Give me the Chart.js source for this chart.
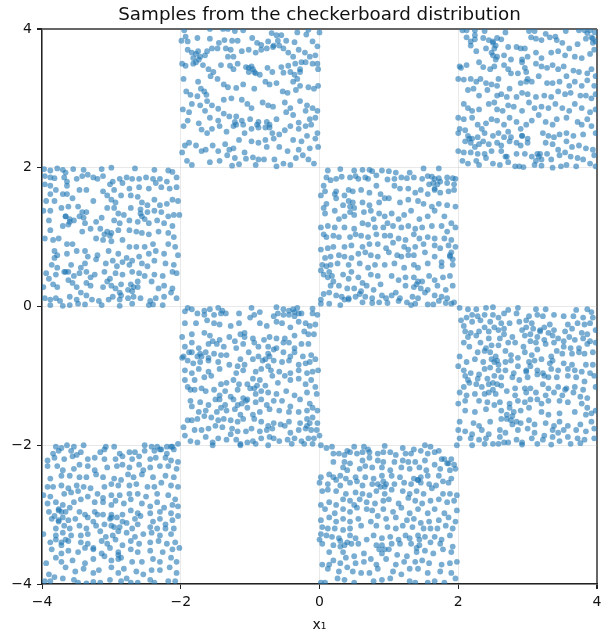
<!DOCTYPE html>
<html>
<head>
<meta charset="utf-8">
<script src="https://cdn.jsdelivr.net/npm/chart.js@4"></script>
<style>
html,body{margin:0;padding:0;background:#fff}
#wrap{width:616px;height:640px}
</style>
</head>
<body>
<div id="wrap"><canvas id="myChart" width="616" height="640"></canvas></div>
<script>
// values, one list per filled square
const squareTopMid=[[-1.95,3.98],[-1.58,4],[-1.39,4],[-1.32,4],[-1.22,3.97],[-1.1,3.98],[-.69,3.94],[-.62,3.91],[-.55,3.91],[-.32,3.95],[-.16,3.99],[0,3.95],[-1.93,3.89],[-1.99,3.83],[-1.76,3.87],[-1.58,3.86],[-1.45,3.8],[-1.37,3.84],[-1.26,3.83],[-1.18,3.83],[-.97,3.87],[-.9,3.8],[-.84,3.77],[-.74,3.82],[-.6,3.83],[-.48,3.83],[-.36,3.81],[-.19,3.92],[-.1,3.82],[-.03,3.75],[-1.9,3.82],
[-1.9,3.7],[-1.84,3.66],[-1.75,3.68],[-1.72,3.6],[-1.82,3.58],[-1.65,3.62],[-1.55,3.72],[-1.62,3.68],[-1.47,3.72],[-1.35,3.72],[-1.28,3.7],[-1.32,3.6],[-1.24,3.6],[-1.12,3.68],[-1.02,3.7],[-.92,3.66],[-.84,3.7],[-.76,3.72],[-.67,3.74],[-.58,3.76],[-.52,3.72],[-.45,3.66],[-.38,3.6],[-.3,3.7],[-.21,3.66],[-.14,3.6],[-.06,3.62],[-.03,3.5],[-.02,3.42],[-.1,3.5],[-.2,3.52],[-.26,3.52],[-.35,3.5],[-.45,3.47],
[-1.98,3.5],[-1.93,3.47],[-1.82,3.5],[-1.68,3.48],[-1.6,3.42],[-1.53,3.38],[-1.57,3.32],[-1.42,3.48],[-1.29,3.47],[-1.24,3.42],[-1.18,3.5],[-1.06,3.45],[-1.02,3.38],[-.96,3.42],[-.92,3.36],[-.86,3.34],[-.75,3.44],[-.68,3.38],[-.55,3.45],[-.52,3.37],[-.42,3.38],[-.36,3.34],[-.32,3.28],[-.38,3.24],[-.28,3.42],
[-1.96,3.28],[-1.75,3.24],[-1.71,3.14],[-1.66,3.1],[-1.63,3.05],[-1.47,3.28],[-1.38,3.2],[-1.32,3.16],[-1.2,3.15],[-1.1,3.2],[-.94,3.14],[-.78,3.24],[-.72,3.2],[-.62,3.22],[-.53,3.1],[-.46,3.08],[-.34,3.12],[-.28,3.18],[-.16,3.16],[-.08,3.14],[-.02,3.18],[-1.92,3.1],[-1.86,3.05],[-1.76,3.03],
[-1.62,2.96],[-1.55,2.9],[-1.46,2.85],[-1.38,2.98],[-1.27,3],[-1.12,2.98],[-1.04,2.92],[-.98,2.86],[-.82,2.94],[-.74,2.9],[-.67,2.88],[-.5,2.94],[-.42,2.86],[-.28,2.96],[-.18,2.9],[-.1,2.86],[-.03,2.82],[-1.97,2.84],[-1.88,2.8],[-1.84,2.92],[-1.72,2.9],[-1.65,2.82],[-1.58,2.72],[-1.46,2.68],[-1.38,2.78],[-1.3,2.74],[-1.2,2.74],[-1.12,2.68],[-1,2.7],[-.88,2.66],[-.76,2.66],[-.62,2.7],[-.48,2.8],[-.38,2.76],[-.3,2.65],[-.2,2.82],[-.14,2.7],[-.06,2.72],
[-1.96,2.6],[-1.9,2.68],[-1.74,2.64],[-1.7,2.55],[-1.62,2.5],[-1.55,2.56],[-1.44,2.6],[-1.34,2.52],[-1.24,2.6],[-1.1,2.62],[-1.08,2.5],[-.98,2.56],[-.88,2.58],[-.78,2.58],[-.68,2.5],[-.58,2.48],[-.5,2.54],[-.42,2.6],[-.3,2.56],[-.2,2.6],[-.12,2.62],[-.03,2.5],[-1.88,2.36],[-1.94,2.32],[-1.78,2.32],[-1.7,2.24],[-1.64,2.26],[-1.54,2.32],[-1.46,2.24],[-1.36,2.34],[-1.3,2.26],[-1.24,2.28],[-1.16,2.4],
[-1.08,2.22],[-.98,2.38],[-.88,2.36],[-.78,2.4],[-.76,2.3],[-.66,2.42],[-.58,2.3],[-.46,2.24],[-.38,2.4],[-.26,2.38],[-.18,2.46],[-.06,2.42],[-.02,2.3],[-.14,2.28],[-.3,2.26],[-1.98,2.22],[-1.91,2.1],[-1.84,2.04],[-1.58,2.08],[-1.44,2.1],[-1.33,2.18],[-1.22,2.14],[-1.16,2.05],[-1.06,2.13],[-.96,2.15],[-.88,2.12],[-.8,2.12],[-.65,2.12],[-.52,2.06],[-.42,2.04],[-.34,2.14],[-.24,2.18],[-.16,2.12],[-.08,2.06],[-.92,2.04],[-1.26,2.03],[-.62,2.02]];

const squareTopRight=[[2.06,3.98],[2.12,3.98],[2.24,3.98],[2.24,3.91],[2.38,3.97],[2.68,3.95],[3.02,3.97],[3.1,3.97],[3.26,3.93],[3.4,3.89],[3.55,3.97],[3.74,3.98],[3.82,3.98],[3.9,3.98],[3.97,3.95],[2.12,3.88],[2.18,3.82],[2.24,3.85],[2.18,3.76],[2.36,3.87],[2.44,3.84],[2.5,3.82],[2.56,3.87],[2.62,3.85],[2.72,3.74],[2.96,3.72],[3.05,3.88],[3.12,3.86],[3.2,3.84],[3.32,3.88],[3.42,3.84],[3.5,3.8],[3.6,3.72],[3.72,3.78],[3.84,3.86],[3.92,3.88],[3.98,3.82],[2.04,3.44],[2.26,3.68],[2.4,3.72],[2.48,3.66],[2.52,3.72],[2.56,3.6],[2.66,3.62],[2.84,3.74],[2.9,3.72],[2.76,3.56],[2.92,3.56],[3,3.6],[3.12,3.66],[3.2,3.58],[3.34,3.66],[3.44,3.68],[3.54,3.62],[3.68,3.6],[3.78,3.58],[3.9,3.64],[3.96,3.7],
[2.02,3.46],[2.12,3.48],[2.3,3.52],[2.36,3.45],[2.46,3.42],[2.52,3.46],[2.66,3.48],[2.72,3.42],[2.76,3.36],[2.92,3.52],[2.96,3.44],[2.98,3.38],[3.12,3.5],[3.2,3.46],[3.28,3.44],[3.36,3.48],[3.44,3.42],[3.52,3.46],[3.66,3.4],[3.74,3.38],[3.86,3.36],[3.92,3.42],[3.98,3.32],[2,3.28],[2.08,3.27],[2.18,3.28],[2.26,3.24],[2.32,3.28],[2.4,3.22],[2.48,3.2],[2.56,3.18],[2.58,3.28],[2.86,3.36],[2.9,3.22],[2.98,3.24],[3.06,3.24],[3.16,3.32],[3.28,3.22],[3.36,3.22],[3.46,3.24],[3.56,3.32],[3.6,3.18],[3.68,3.24],[3.78,3.18],[3.86,3.26],[3.96,3.18],
[2.14,3.12],[2.22,3.14],[2.3,3.04],[2.42,3.12],[2.56,3.04],[2.62,3.06],[2.7,3.02],[2.74,3.14],[2.84,3.02],[2.92,3.08],[3,3.06],[3.12,3.02],[3.24,3.04],[3.34,3.02],[3.44,3.1],[3.54,3.06],[3.62,3.08],[3.76,3.04],[3.84,3.04],[3.92,3],[3.98,3.06],[2.08,2.92],[2.14,2.86],[2.2,2.82],[2.3,2.84],[2.44,2.92],[2.52,2.94],[2.56,2.84],[2.64,2.82],[2.72,2.9],[2.8,2.88],[2.92,2.82],[3.02,2.94],[3.1,2.86],[3.2,2.88],[3.3,2.86],[3.4,2.92],[3.5,2.86],[3.6,2.82],[3.68,2.92],[3.78,2.86],[3.9,2.8],[3.98,2.84],
[2,2.72],[2.08,2.7],[2.2,2.72],[2.28,2.62],[2.34,2.56],[2.4,2.64],[2.48,2.7],[2.56,2.68],[2.66,2.62],[2.74,2.72],[2.84,2.66],[2.98,2.62],[3.06,2.68],[3.16,2.76],[3.26,2.66],[3.36,2.62],[3.42,2.7],[3.56,2.72],[3.72,2.66],[3.78,2.62],[3.86,2.7],[3.92,2.6],[2.02,2.56],[2,2.5],[2.1,2.54],[2.14,2.46],[2.2,2.42],[2.28,2.44],[2.38,2.5],[2.5,2.46],[2.58,2.5],[2.66,2.44],[2.72,2.52],[2.76,2.44],[2.92,2.46],[3,2.42],[3.22,2.5],[3.3,2.46],[3.38,2.44],[3.46,2.48],[3.56,2.5],[3.66,2.46],[3.8,2.48],[3.98,2.5],
[2.1,2.38],[2.18,2.36],[2.24,2.3],[2.3,2.34],[2.36,2.38],[2.44,2.34],[2.56,2.36],[2.62,2.32],[2.74,2.38],[2.84,2.36],[2.9,2.32],[3.26,2.36],[3.36,2.34],[3.44,2.26],[3.56,2.38],[3.64,2.3],[3.74,2.32],[3.84,2.28],[3.94,2.26],[2,2.24],[2.08,2.22],[2.18,2.22],[2.28,2.2],[2.38,2.2],[2.48,2.24],[2.62,2.24],[2.68,2.16],[2.84,2.2],[2.96,2.2],[3.06,2.16],[3.14,2.2],[3.2,2.12],[3.28,2.2],[3.34,2.12],[3.46,2.18],[3.54,2.22],[3.62,2.16],[3.72,2.14],[3.8,2.12],[3.96,2.18],
[2.06,2.1],[2.14,2.06],[2.26,2.1],[2.3,2.04],[2.4,2.14],[2.5,2.06],[2.6,2.04],[2.72,2.08],[2.82,2.02],[2.88,2.02],[2.94,2.01],[3.1,2.04],[3.12,2.1],[3.2,2.03],[3.36,2],[3.48,2.02],[3.56,2.04],[3.7,2.02],[3.9,2.06],[3.98,2.02]];

const squareMidLeft=[[-3.97,1.98],[-3.88,1.96],[-3.78,1.99],[-3.7,1.97],[-3.66,1.93],[-3.55,1.98],[-3.4,1.97],[-3.14,1.98],[-3,2],[-2.66,1.99],[-2.38,1.97],[-2.18,1.96],[-2.12,1.94],[-3.96,1.88],[-3.88,1.86],[-3.82,1.85],[-3.68,1.86],[-3.64,1.8],[-3.5,1.84],[-3.42,1.88],[-3.34,1.9],[-3.26,1.86],[-3.2,1.84],[-3.12,1.88],[-2.98,1.8],[-2.88,1.84],[-2.78,1.86],[-2.7,1.84],[-2.6,1.84],[-2.5,1.86],[-2.4,1.84],[-2.3,1.84],[-2.2,1.8],[-2.06,1.86],
[-3.96,1.76],[-3.88,1.74],[-3.8,1.68],[-3.64,1.74],[-3.46,1.68],[-3.36,1.68],[-3.12,1.66],[-3.02,1.76],[-2.96,1.68],[-2.84,1.78],[-2.74,1.7],[-2.6,1.72],[-2.46,1.7],[-2.36,1.78],[-2.28,1.72],[-2.16,1.7],[-2.06,1.72],[-3.88,1.62],[-3.94,1.52],[-3.82,1.52],[-3.7,1.62],[-3.64,1.62],[-3.56,1.56],[-3.26,1.52],[-3.06,1.6],[-3,1.54],[-2.94,1.5],[-2.86,1.6],[-2.72,1.6],[-2.62,1.58],[-2.56,1.5],[-2.48,1.46],[-2.38,1.54],[-2.3,1.46],[-2.2,1.48],[-2.12,1.54],[-2.04,1.52],
[-3.98,1.38],[-3.88,1.38],[-3.72,1.42],[-3.62,1.44],[-3.48,1.44],[-3.42,1.36],[-3.36,1.36],[-3.06,1.42],[-2.96,1.42],[-2.9,1.34],[-2.82,1.32],[-2.72,1.42],[-2.58,1.4],[-2.48,1.36],[-2.38,1.38],[-2.28,1.36],[-2.18,1.3],[-2.02,1.32],[-3.9,1.24],[-3.66,1.3],[-3.6,1.26],[-3.54,1.24],[-3.46,1.3],[-3.4,1.28],[-3.38,1.2],[-3.22,1.22],[-3.14,1.28],[-2.96,1.24],[-2.88,1.2],[-2.74,1.24],[-2.62,1.22],[-2.52,1.26],[-2.46,1.2],[-2.34,1.24],[-2.24,1.2],[-2.12,1.16],
[-3.88,1.1],[-3.7,1.16],[-3.42,1.08],[-3.3,1.12],[-3.16,1.12],[-3.1,1.04],[-3,1.06],[-2.9,1.1],[-2.74,1.1],[-2.64,1.08],[-2.56,1.06],[-2.46,1.04],[-2.32,1.08],[-2.18,1.06],[-2.1,1],[-3.96,.98],[-3.84,.96],[-3.76,.98],[-3.64,.9],[-3.56,.9],[-3.22,.98],[-3.12,.96],[-3,.94],[-2.84,.96],[-2.74,.86],[-2.64,.86],[-2.52,.86],[-2.4,.9],[-2.18,.9],[-2.08,.86],[-3.82,.8],[-3.78,.74],[-3.64,.76],[-3.5,.8],[-3.38,.8],[-3.34,.72],[-3.2,.74],[-3.04,.8],[-2.9,.76],[-2.78,.7],[-2.6,.72],[-2.56,.62],[-2.46,.76],[-2.36,.8],[-2.24,.76],[-2.04,.74],
[-3.82,.7],[-3.86,.6],[-3.78,.56],[-3.58,.6],[-3.44,.56],[-3.38,.62],[-3.22,.68],[-3.08,.62],[-2.98,.66],[-2.92,.58],[-2.84,.64],[-2.74,.6],[-2.7,.66],[-2.48,.58],[-2.38,.66],[-2.22,.62],[-2.1,.6],[-3.94,.48],[-3.9,.4],[-3.8,.46],[-3.66,.5],[-3.54,.44],[-3.46,.48],[-3.36,.5],[-3.3,.42],[-3.24,.46],[-3.1,.5],[-3.02,.4],[-2.94,.48],[-2.84,.46],[-2.7,.5],[-2.6,.48],[-2.52,.44],[-2.38,.46],[-2.26,.44],[-2.12,.5],[-2.06,.48],
[-3.98,.28],[-3.84,.32],[-3.78,.28],[-3.62,.38],[-3.56,.34],[-3.5,.28],[-3.36,.34],[-3.3,.3],[-3.12,.28],[-3.06,.36],[-3,.3],[-2.94,.26],[-2.86,.32],[-2.76,.24],[-2.7,.22],[-2.62,.28],[-2.42,.36],[-2.32,.26],[-2.24,.3],[-2.12,.26],[-3.96,.12],[-3.88,.1],[-3.8,.12],[-3.74,.08],[-3.6,.14],[-3.5,.1],[-3.44,.2],[-3.36,.16],[-3.28,.1],[-3.18,.08],[-3.04,.1],[-2.88,.1],[-2.76,.12],[-2.68,.14],[-2.58,.12],[-2.44,.08],[-2.36,.12],[-2.24,.14],[-2.14,.2],[-2.06,.12],
[-3.88,.02],[-3.7,.01],[-3.6,.02],[-3.48,.04],[-3.38,.03],[-3.14,.02],[-2.88,.01],[-2.7,.04],[-2.46,.02],[-2.4,.03],[-2.26,.02]];

const squareMidMid=[[.12,1.96],[.3,1.98],[.5,1.96],[.52,1.88],[.62,1.97],[.72,1.97],[.76,1.95],[.9,1.96],[1,1.95],[1.1,1.93],[1.5,1.99],[1.72,1.99],[1.3,1.93],[.06,1.74],[.1,1.86],[.16,1.82],[.24,1.84],[.32,1.87],[.44,1.86],[.56,1.84],[.66,1.86],[.7,1.84],[.82,1.89],[.98,1.83],[1.08,1.84],[1.18,1.86],[1.26,1.85],[1.36,1.86],[1.48,1.84],[1.56,1.88],[1.62,1.87],[1.72,1.85],[1.84,1.86],[1.92,1.85],[1.96,1.84],[1.58,1.76],[1.64,1.78],[1.74,1.8],[1.84,1.78],[1.94,1.76],
[.02,1.6],[.08,1.66],[.24,1.66],[.36,1.6],[.42,1.68],[.48,1.66],[.6,1.68],[.72,1.64],[.82,1.74],[.88,1.62],[1.08,1.74],[1.16,1.7],[1.28,1.7],[1.38,1.64],[1.46,1.68],[1.56,1.62],[1.66,1.7],[1.74,1.64],[1.86,1.66],[1.94,1.68],[.1,1.48],[.06,1.42],[.34,1.46],[.42,1.52],[.48,1.5],[.62,1.5],[.72,1.46],[.86,1.5],[.94,1.56],[1,1.56],[1.16,1.5],[1.28,1.54],[1.42,1.52],[1.5,1.48],[1.62,1.44],[1.72,1.48],[1.84,1.46],[1.96,1.44],
[.08,1.34],[.22,1.38],[.28,1.26],[.36,1.3],[.44,1.36],[.5,1.32],[.64,1.36],[.74,1.38],[.86,1.34],[.94,1.3],[1.04,1.34],[1.14,1.26],[1.22,1.32],[1.32,1.38],[1.44,1.26],[1.56,1.3],[1.66,1.38],[1.8,1.3],[1.9,1.2],[.02,1.14],[.06,1.04],[.12,1.16],[.22,1.14],[.36,1.14],[.5,1.12],[.62,1.2],[.7,1.18],[.78,1.26],[.8,1.14],[.92,1.14],[1.06,1.16],[1.18,1.14],[1.28,1.16],[1.38,1.12],[1.48,1.14],[1.62,1.16],[1.76,1.16],[1.84,1.08],[1.96,1.14],
[.1,1],[.2,1.02],[.28,1],[.44,1],[.52,1.04],[.6,1.02],[.7,1],[.82,1.04],[.94,1.02],[1.02,1.02],[1.14,.98],[1.24,.96],[1.36,1.04],[1.44,.98],[1.56,1],[1.66,.98],[1.8,.98],[1.9,.96],[.02,.82],[.12,.84],[.2,.86],[.36,.86],[.46,.88],[.62,.86],[.72,.9],[.84,.9],[.96,.84],[1.06,.92],[1.22,.86],[1.28,.82],[1.38,.86],[1.5,.9],[1.66,.88],[1.74,.84],[1.86,.88],[1.96,.86],
[.08,.7],[.16,.72],[.28,.74],[.36,.72],[.46,.7],[.56,.76],[.66,.78],[.74,.74],[.84,.72],[1,.78],[1.12,.74],[1.18,.72],[1.28,.74],[1.36,.74],[1.52,.78],[1.66,.72],[1.76,.64],[1.92,.68],[1.88,.74],[.04,.6],[.1,.58],[.16,.6],[.26,.62],[.42,.6],[.58,.62],[.7,.56],[.8,.6],[.94,.6],[1.08,.62],[1.22,.56],[1.36,.6],[1.42,.56],[1.56,.62],[1.76,.58],[1.92,.6],
[.02,.52],[.06,.46],[.12,.42],[.2,.36],[.34,.46],[.42,.4],[.46,.5],[.56,.42],[.62,.34],[.74,.46],[.84,.44],[1.04,.44],[1.14,.38],[1.24,.42],[1.36,.42],[1.48,.36],[1.58,.44],[1.66,.38],[1.78,.42],[1.88,.44],[.16,.3],[.28,.3],[.4,.26],[.5,.26],[.6,.22],[.68,.3],[.78,.24],[.88,.32],[1.1,.2],[1.24,.3],[1.36,.28],[1.46,.26],[1.56,.24],[1.7,.3],[1.82,.24],[1.92,.3],
[.06,.18],[.14,.2],[.24,.16],[.32,.14],[.42,.12],[.52,.14],[.58,.18],[.66,.14],[.76,.12],[.9,.16],[.96,.12],[1.04,.16],[1.16,.12],[1.34,.14],[1.42,.12],[1.52,.2],[1.66,.16],[1.76,.14],[1.84,.12],[1.94,.06],[.02,.1],[.02,.04],[.14,.04],[.3,.02],[.62,.06],[.76,.05],[.86,.06],[.98,.05],[1.14,.08],[1.26,.06],[1.32,.02],[1.38,.04],[1.56,.03],[1.64,.03],[1.72,.08],[1.82,.05],[1.9,.04]];

const squareCenter=[[-1.9,-.02],[-1.84,-.04],[-1.66,-.06],[-1.58,-.04],[-1.46,-.02],[-1.4,-.06],[-.98,-.02],[-.62,-.01],[-.52,-.04],[-.44,-.06],[-.38,-.04],[-.32,-.02],[-.1,-.03],[-1.94,-.07],[-1.76,-.1],[-1.66,-.12],[-1.52,-.12],[-1.42,-.1],[-1.35,-.1],[-1.16,-.1],[-1,-.16],[-.94,-.12],[-.86,-.08],[-.66,-.14],[-.6,-.1],[-.52,-.12],[-.44,-.12],[-.36,-.14],[-.26,-.1],[-.1,-.1],[-.03,-.12],[-1.94,-.24],
[-1.78,-.24],[-1.62,-.2],[-1.52,-.24],[-1.44,-.26],[-1.28,-.28],[-1.16,-.24],[-.86,-.24],[-.76,-.28],[-.62,-.22],[-.54,-.24],[-.42,-.3],[-.3,-.22],[-.2,-.24],[-.14,-.28],[-.06,-.26],[-1.98,-.44],[-1.84,-.4],[-1.66,-.38],[-1.58,-.42],[-1.44,-.48],[-1.3,-.44],[-1.14,-.4],[-1.08,-.38],[-.96,-.46],[-.8,-.48],[-.72,-.44],[-.62,-.46],[-.5,-.46],[-.36,-.42],[-.22,-.36],[-.16,-.4],[-.08,-.4],
[-1.94,-.58],[-1.84,-.52],[-1.74,-.6],[-1.6,-.54],[-1.54,-.5],[-1.48,-.54],[-1.38,-.58],[-1.22,-.5],[-1.1,-.54],[-1.08,-.44],[-.94,-.52],[-.88,-.58],[-.74,-.58],[-.62,-.6],[-.52,-.52],[-.44,-.52],[-.36,-.6],[-.26,-.54],[-.16,-.54],[-1.96,-.72],[-1.88,-.66],[-1.76,-.72],[-1.64,-.66],[-1.6,-.74],[-1.52,-.68],[-1.42,-.7],[-1.34,-.7],[-1.2,-.6],[-1.14,-.76],[-1.02,-.66],[-.88,-.72],[-.74,-.68],[-.66,-.62],[-.52,-.66],[-.42,-.72],[-.36,-.66],[-.24,-.72],[-.12,-.7],
[-1.98,-.74],[-1.9,-.78],[-1.82,-.82],[-1.72,-.8],[-1.6,-.78],[-1.46,-.8],[-1.3,-.84],[-1.18,-.86],[-1.08,-.84],[-.96,-.76],[-.82,-.78],[-.74,-.86],[-.66,-.78],[-.54,-.8],[-.44,-.78],[-.3,-.84],[-.2,-.82],[-.14,-.8],[-.06,-.76],[-1.94,-.92],[-1.84,-.96],[-1.74,-.9],[-1.6,-.94],[-1.44,-.9],[-1.2,-.96],[-1.1,-.92],[-.92,-.94],[-.84,-.9],[-.7,-.92],[-.58,-.94],[-.42,-.96],[-.3,-.92],[-.18,-.96],[-.1,-.94],[-.02,-.92],
[-1.94,-1.06],[-1.9,-1.16],[-1.8,-1.06],[-1.66,-1.02],[-1.56,-1],[-1.42,-1.12],[-1.34,-1.1],[-1.24,-1.06],[-1.16,-1.12],[-1.04,-1.12],[-.96,-1.04],[-.86,-1.06],[-.78,-1.14],[-.68,-1],[-.6,-1.1],[-.5,-1],[-.42,-1.06],[-.3,-1.04],[-.2,-1.12],[-.12,-1.06],[-.06,-1.16],[-1.86,-1.2],[-1.8,-1.2],[-1.7,-1.18],[-1.64,-1.22],[-1.52,-1.2],[-1.44,-1.28],[-1.36,-1.22],[-1.28,-1.3],[-1.18,-1.2],[-1,-1.18],[-.92,-1.26],[-.84,-1.22],[-.74,-1.24],[-.62,-1.26],[-.48,-1.22],[-.36,-1.28],[-.18,-1.24],[-.04,-1.26],
[-1.86,-1.36],[-1.84,-1.44],[-1.72,-1.38],[-1.6,-1.42],[-1.5,-1.34],[-1.44,-1.34],[-1.36,-1.42],[-1.24,-1.34],[-1.12,-1.4],[-1.04,-1.34],[-.92,-1.38],[-.84,-1.34],[-.76,-1.42],[-.66,-1.36],[-.54,-1.36],[-.42,-1.44],[-.28,-1.34],[-.14,-1.4],[-1.74,-1.52],[-1.64,-1.5],[-1.48,-1.52],[-1.42,-1.46],[-1.34,-1.5],[-1.22,-1.48],[-1.14,-1.56],[-1.04,-1.46],[-.96,-1.56],[-.86,-1.52],[-.72,-1.48],[-.58,-1.5],[-.44,-1.52],[-.3,-1.52],[-.18,-1.5],[-.1,-1.46],[-.03,-1.5],
[-1.9,-1.64],[-1.84,-1.64],[-1.76,-1.62],[-1.66,-1.58],[-1.56,-1.6],[-1.46,-1.64],[-1.38,-1.62],[-1.28,-1.64],[-1.18,-1.66],[-1.1,-1.62],[-.94,-1.62],[-.84,-1.66],[-.74,-1.72],[-.66,-1.68],[-.56,-1.7],[-.44,-1.66],[-.28,-1.68],[-.18,-1.62],[-.1,-1.6],[-.03,-1.68],[-1.96,-1.74],[-1.8,-1.78],[-1.7,-1.78],[-1.6,-1.76],[-1.5,-1.72],[-1.4,-1.74],[-1.26,-1.76],[-1.18,-1.8],[-1.06,-1.8],[-.98,-1.76],[-.86,-1.8],[-.76,-1.78],[-.68,-1.76],[-.5,-1.72],[-.42,-1.82],[-.3,-1.78],[-.2,-1.76],[-.12,-1.78],[-.04,-1.78],
[-1.94,-1.86],[-1.86,-1.94],[-1.76,-1.96],[-1.64,-1.88],[-1.54,-1.96],[-1.46,-1.9],[-1.34,-1.92],[-1.28,-1.84],[-1.2,-1.92],[-1.14,-1.98],[-1.04,-1.96],[-.96,-1.94],[-.84,-1.9],[-.72,-1.88],[-.66,-1.9],[-.58,-1.94],[-.46,-1.92],[-.36,-1.9],[-.26,-1.94],[-.16,-1.9],[-.08,-1.9],[0,-1.86],[-1.54,-2],[-1.14,-2],[-.92,-1.98],[-.74,-2],[-.4,-1.98],[-.22,-1.98],[-.1,-1.98]];

const squareRight=[[2.02,-.02],[2.14,-.04],[2.26,-.04],[2.4,-.02],[2.5,-.01],[2.72,-.05],[2.86,-.02],[3.12,-.04],[3.26,-.04],[3.7,-.05],[3.86,-.04],[3.92,-.08],[2.12,-.16],[2.2,-.12],[2.28,-.14],[2.38,-.12],[2.5,-.12],[2.58,-.16],[2.66,-.1],[2.84,-.1],[3.02,-.14],[3.14,-.12],[3.22,-.14],[3.38,-.12],[3.52,-.14],[3.66,-.14],[3.8,-.16],[3.94,-.16],
[2.04,-.2],[2.2,-.22],[2.32,-.2],[2.46,-.22],[2.52,-.3],[2.62,-.24],[2.74,-.24],[2.88,-.22],[2.98,-.2],[3.06,-.24],[3.32,-.26],[3.38,-.34],[3.58,-.26],[3.72,-.24],[3.82,-.26],[3.9,-.24],[2.08,-.28],[2.1,-.36],[2.18,-.38],[2.3,-.36],[2.38,-.3],[2.44,-.36],[2.58,-.34],[2.66,-.32],[2.92,-.34],[2.98,-.3],[3.08,-.32],[3.18,-.36],[3.3,-.38],[3.54,-.36],[3.64,-.32],[3.78,-.38],[3.86,-.4],[3.98,-.34],
[2.14,-.44],[2.26,-.42],[2.44,-.46],[2.6,-.46],[2.66,-.4],[2.78,-.44],[2.96,-.42],[3.04,-.4],[3.14,-.44],[3.24,-.48],[3.36,-.42],[3.44,-.46],[3.52,-.5],[3.6,-.44],[3.68,-.48],[3.8,-.46],[3.9,-.5],[2.08,-.52],[2.16,-.58],[2.32,-.52],[2.4,-.6],[2.48,-.56],[2.58,-.56],[2.72,-.52],[2.82,-.52],[2.94,-.58],[3.04,-.5],[3.12,-.52],[3.26,-.54],[3.38,-.52],[3.52,-.58],[3.62,-.6],[3.74,-.6],[3.86,-.54],[3.98,-.52],
[2.02,-.72],[2.28,-.66],[2.38,-.64],[2.46,-.66],[2.54,-.72],[2.68,-.64],[2.76,-.7],[2.86,-.74],[2.96,-.66],[3.06,-.7],[3.14,-.62],[3.34,-.72],[3.42,-.64],[3.5,-.68],[3.64,-.68],[3.74,-.66],[3.82,-.68],[3.94,-.66],[2.12,-.8],[2.24,-.76],[2.36,-.8],[2.48,-.76],[2.58,-.84],[2.68,-.8],[2.76,-.78],[2.86,-.86],[3.02,-.8],[3.1,-.78],[3.2,-.76],[3.32,-.82],[3.36,-.78],[3.52,-.82],[3.64,-.84],[3.84,-.84],[3.94,-.84],
[2,-.86],[2.08,-.92],[2.18,-.96],[2.3,-.98],[2.38,-.9],[2.46,-.88],[2.58,-.92],[2.68,-.92],[2.8,-.96],[2.98,-.94],[3.14,-.92],[3.22,-.96],[3.34,-.9],[3.44,-.92],[3.58,-.9],[3.68,-.92],[3.78,-.94],[3.9,-.96],[2.1,-1],[2.14,-1.06],[2.28,-1.04],[2.42,-1.04],[2.52,-1],[2.62,-1.02],[2.78,-1.02],[2.88,-1.06],[3,-1.02],[3.14,-.98],[3.24,-1],[3.3,-1.02],[3.42,-1.02],[3.58,-1],[3.7,-1.02],[3.82,-1.08],[3.96,-1],
[2.08,-1.16],[2.16,-1.1],[2.26,-1.12],[2.34,-1.16],[2.44,-1.12],[2.5,-1.2],[2.62,-1.14],[2.82,-1.18],[2.96,-1.18],[3.04,-1.18],[3.22,-1.12],[3.3,-1.18],[3.44,-1.16],[3.54,-1.2],[3.68,-1.16],[3.8,-1.2],[3.98,-1.16],[2.02,-1.24],[2.12,-1.28],[2.24,-1.26],[2.38,-1.26],[2.44,-1.24],[2.54,-1.26],[2.7,-1.22],[2.82,-1.28],[2.98,-1.24],[3.12,-1.24],[3.26,-1.28],[3.38,-1.24],[3.5,-1.28],[3.66,-1.24],[3.76,-1.3],[3.86,-1.32],
[2,-1.4],[2.1,-1.36],[2.3,-1.36],[2.42,-1.38],[2.52,-1.42],[2.6,-1.38],[2.74,-1.4],[2.86,-1.36],[2.96,-1.38],[3.04,-1.34],[3.14,-1.34],[3.2,-1.4],[3.3,-1.36],[3.46,-1.36],[3.58,-1.38],[3.78,-1.4],[3.86,-1.46],[3.98,-1.5],[2.1,-1.5],[2.24,-1.52],[2.4,-1.48],[2.62,-1.5],[2.74,-1.46],[2.8,-1.52],[2.9,-1.5],[3.02,-1.46],[3.2,-1.52],[3.3,-1.56],[3.46,-1.54],[3.68,-1.52],[3.84,-1.56],[3.92,-1.54],
[2.02,-1.66],[2.22,-1.68],[2.3,-1.72],[2.46,-1.66],[2.62,-1.62],[2.7,-1.62],[2.78,-1.58],[2.9,-1.68],[3.02,-1.64],[3.1,-1.7],[3.26,-1.68],[3.38,-1.72],[3.46,-1.66],[3.58,-1.72],[3.76,-1.7],[3.92,-1.66],[2,-1.78],[2.1,-1.8],[2.2,-1.84],[2.34,-1.78],[2.44,-1.84],[2.6,-1.78],[2.68,-1.82],[2.86,-1.78],[3,-1.76],[3.1,-1.82],[3.24,-1.86],[3.36,-1.78],[3.44,-1.82],[3.52,-1.78],[3.7,-1.78],[3.84,-1.8],[3.96,-1.76],
[2.02,-1.9],[2.18,-1.9],[2.3,-1.92],[2.4,-1.9],[2.6,-1.88],[2.72,-1.96],[2.84,-1.92],[2.92,-1.96],[3.06,-1.9],[3.22,-1.92],[3.36,-1.88],[3.46,-1.94],[3.58,-1.88],[3.72,-1.9],[3.82,-1.92],[3.96,-1.9],[2.2,-2],[2.38,-1.98],[2.5,-1.98],[2.58,-1.98],[2.66,-1.96],[2.92,-1.99],[3.14,-1.98],[3.34,-1.99],[3.62,-1.98],[3.76,-1.97]];

const squareBottomLeft=[[-3.8,-2.02],[-3.72,-2.04],[-3.64,-2],[-3.54,-2.02],[-3.4,-2],[-3.08,-2.02],[-2.96,-2.02],[-2.52,-2],[-2.42,-2.02],[-2.2,-2.02],[-2.14,-2.02],[-2.04,-1.98],[-3.84,-2.12],[-3.76,-2.08],[-3.58,-2.08],[-3.44,-2.1],[-3.16,-2.1],[-3.1,-2.06],[-2.88,-2.12],[-2.74,-2.1],[-2.66,-2.1],[-2.52,-2.08],[-2.38,-2.08],[-2.28,-2.06],[-2.2,-2.12],[-2.1,-2.06],[-3.92,-2.22],[-3.82,-2.18],[-3.68,-2.2],[-3.56,-2.16],[-3.5,-2.14],[-3.34,-2.2],[-3.24,-2.18],[-3.1,-2.2],[-2.94,-2.2],[-2.84,-2.16],[-2.7,-2.2],[-2.6,-2.16],[-2.44,-2.2],[-2.36,-2.18],[-2.22,-2.18],[-2.14,-2.22],[-2.04,-2.24],
[-3.92,-2.3],[-3.78,-2.3],[-3.7,-2.36],[-3.54,-2.34],[-3.46,-2.28],[-3.34,-2.3],[-3.24,-2.36],[-3.06,-2.32],[-2.92,-2.3],[-2.84,-2.28],[-2.74,-2.32],[-2.6,-2.28],[-2.54,-2.36],[-2.44,-2.32],[-2.3,-2.3],[-2.18,-2.3],[-2.06,-2.34],[-3.88,-2.48],[-3.72,-2.44],[-3.6,-2.44],[-3.46,-2.46],[-3.36,-2.46],[-3.22,-2.42],[-3.12,-2.46],[-2.96,-2.48],[-2.86,-2.5],[-2.76,-2.42],[-2.68,-2.46],[-2.56,-2.42],[-2.4,-2.46],[-2.22,-2.44],[-2.1,-2.46],
[-3.92,-2.6],[-3.84,-2.6],[-3.72,-2.58],[-3.62,-2.62],[-3.5,-2.58],[-3.4,-2.6],[-3.3,-2.62],[-3.1,-2.6],[-3,-2.56],[-2.9,-2.58],[-2.74,-2.58],[-2.64,-2.56],[-2.48,-2.6],[-2.38,-2.6],[-2.28,-2.54],[-2.14,-2.58],[-2.04,-2.6],[-3.98,-2.72],[-3.88,-2.74],[-3.68,-2.7],[-3.58,-2.68],[-3.48,-2.66],[-3.34,-2.74],[-3.2,-2.7],[-3.12,-2.76],[-3,-2.72],[-2.88,-2.72],[-2.74,-2.7],[-2.62,-2.7],[-2.5,-2.74],[-2.34,-2.7],[-2.18,-2.72],[-2.08,-2.78],
[-3.92,-2.84],[-3.8,-2.82],[-3.7,-2.86],[-3.54,-2.82],[-3.44,-2.78],[-3.24,-2.82],[-3.12,-2.82],[-3,-2.86],[-2.94,-2.8],[-2.82,-2.84],[-2.72,-2.78],[-2.56,-2.84],[-2.44,-2.88],[-2.34,-2.82],[-2.24,-2.9],[-2.12,-2.86],[-2.04,-2.88],[-3.9,-2.96],[-3.76,-2.94],[-3.66,-2.96],[-3.6,-2.9],[-3.46,-2.96],[-3.38,-3],[-3.24,-2.96],[-3.12,-3],[-3,-3],[-2.84,-3],[-2.72,-2.94],[-2.62,-2.98],[-2.44,-2.98],[-2.3,-2.96],[-2.14,-2.98],[-2.04,-3.02],
[-3.86,-3.06],[-3.76,-3.08],[-3.7,-3.04],[-3.62,-3.08],[-3.52,-3.06],[-3.34,-3.04],[-3.26,-3.1],[-3.2,-3],[-3.02,-3.06],[-2.92,-3.04],[-2.84,-3.1],[-2.78,-3.12],[-2.66,-3.06],[-2.58,-3.02],[-2.4,-3.1],[-2.3,-3.06],[-2.22,-3.14],[-2.12,-3.08],[-3.8,-3.2],[-3.68,-3.16],[-3.6,-3.2],[-3.46,-3.16],[-3.36,-3.2],[-3.22,-3.16],[-3.1,-3.14],[-3,-3.16],[-2.88,-3.18],[-2.7,-3.2],[-2.62,-3.14],[-2.44,-3.18],[-2.34,-3.2],[-2.22,-3.2],[-2.1,-3.2],
[-3.98,-3.28],[-3.8,-3.3],[-3.7,-3.26],[-3.58,-3.3],[-3.44,-3.3],[-3.34,-3.28],[-3.16,-3.24],[-3.08,-3.32],[-2.98,-3.3],[-2.9,-3.24],[-2.78,-3.26],[-2.66,-3.32],[-2.54,-3.28],[-2.42,-3.26],[-2.3,-3.3],[-2.14,-3.28],[-3.88,-3.4],[-3.8,-3.36],[-3.72,-3.44],[-3.62,-3.38],[-3.44,-3.4],[-3.34,-3.42],[-3.14,-3.38],[-3.06,-3.42],[-2.94,-3.36],[-2.84,-3.44],[-2.72,-3.38],[-2.6,-3.42],[-2.44,-3.4],[-2.32,-3.38],[-2.2,-3.42],[-2.08,-3.4],
[-3.86,-3.5],[-3.72,-3.56],[-3.62,-3.52],[-3.48,-3.54],[-3.38,-3.48],[-3.26,-3.5],[-3.14,-3.56],[-3.02,-3.48],[-2.9,-3.54],[-2.72,-3.5],[-2.62,-3.54],[-2.44,-3.52],[-2.26,-3.54],[-2.12,-3.5],[-2.02,-3.48],[-3.94,-3.7],[-3.8,-3.62],[-3.72,-3.68],[-3.56,-3.66],[-3.38,-3.7],[-3.26,-3.64],[-3.1,-3.6],[-3,-3.66],[-2.9,-3.64],[-2.7,-3.68],[-2.56,-3.68],[-2.4,-3.64],[-2.3,-3.68],[-2.14,-3.62],[-2.06,-3.68],
[-3.9,-3.86],[-3.82,-3.9],[-3.66,-3.76],[-3.52,-3.82],[-3.4,-3.78],[-3.26,-3.84],[-3.18,-3.8],[-3,-3.76],[-2.9,-3.84],[-2.82,-3.78],[-2.64,-3.82],[-2.54,-3.86],[-2.42,-3.8],[-2.3,-3.8],[-2.16,-3.76],[-2.06,-3.84],[-3.96,-3.96],[-3.88,-3.96],[-3.7,-3.92],[-3.54,-3.94],[-3.48,-3.98],[-3.36,-3.99],[-3.26,-3.97],[-3.16,-3.98],[-3.02,-3.94],[-2.86,-3.96],[-2.78,-3.92],[-2.72,-3.98],[-2.62,-3.98],[-2.44,-3.94],[-2.38,-3.98],[-2.18,-3.96],[-2.08,-3.96]];

const squareBottomMid=[[.02,-2],[.1,-2.04],[.18,-2.02],[.2,-2.12],[.4,-2.08],[.5,-2.02],[.64,-2.02],[.7,-2.06],[.94,-2.01],[1.2,-2.04],[1.36,-2.06],[1.52,-2],[1.6,-2.02],[1.72,-2.08],[1.98,-2],[.28,-2.12],[.36,-2.14],[.44,-2.1],[.54,-2.12],[.62,-2.1],[.72,-2.1],[.84,-2.12],[.92,-2.1],[1.02,-2.1],[1.1,-2.14],[1.24,-2.12],[1.32,-2.12],[1.46,-2.08],[1.56,-2.12],[1.66,-2.1],[1.8,-2.2],[.2,-2.24],[.36,-2.24],[.44,-2.26],[.62,-2.22],[.72,-2.18],[.84,-2.22],[.92,-2.24],[1.08,-2.24],[1.2,-2.22],[1.28,-2.24],[1.38,-2.24],[1.52,-2.22],[1.66,-2.28],[1.76,-2.2],[1.86,-2.26],[1.94,-2.28],
[.34,-2.32],[.4,-2.36],[.58,-2.34],[.66,-2.3],[.76,-2.32],[.9,-2.32],[1.02,-2.36],[1.18,-2.32],[1.3,-2.34],[1.44,-2.32],[1.54,-2.36],[1.74,-2.34],[1.88,-2.36],[1.96,-2.34],[.02,-2.46],[.14,-2.42],[.2,-2.46],[.3,-2.44],[.38,-2.48],[.52,-2.46],[.66,-2.46],[.78,-2.48],[.9,-2.44],[1.04,-2.44],[1.16,-2.46],[1.36,-2.48],[1.46,-2.46],[1.56,-2.44],[1.72,-2.44],[1.9,-2.48],
[0,-2.54],[.12,-2.56],[.24,-2.5],[.3,-2.58],[.44,-2.54],[.54,-2.52],[.62,-2.58],[.76,-2.56],[.84,-2.56],[.94,-2.6],[1.08,-2.56],[1.22,-2.54],[1.32,-2.56],[1.42,-2.5],[1.58,-2.56],[1.68,-2.58],[1.78,-2.52],[1.86,-2.54],[.04,-2.66],[.12,-2.64],[.24,-2.66],[.38,-2.7],[.52,-2.68],[.62,-2.7],[.72,-2.72],[.82,-2.66],[.94,-2.7],[1.04,-2.64],[1.2,-2.66],[1.3,-2.7],[1.4,-2.66],[1.5,-2.7],[1.62,-2.62],[1.78,-2.7],[1.88,-2.7],[1.98,-2.72],
[.02,-2.86],[.14,-2.82],[.24,-2.86],[.34,-2.78],[.44,-2.8],[.5,-2.86],[.58,-2.78],[.68,-2.82],[.8,-2.84],[.92,-2.8],[1,-2.78],[1.14,-2.84],[1.28,-2.76],[1.38,-2.8],[1.48,-2.84],[1.6,-2.8],[1.72,-2.78],[1.84,-2.82],[1.94,-2.8],[.08,-2.92],[.22,-2.98],[.34,-2.92],[.44,-2.96],[.54,-2.9],[.68,-2.92],[.76,-2.94],[.92,-2.92],[1.06,-2.96],[1.18,-2.9],[1.3,-2.98],[1.42,-2.92],[1.56,-2.98],[1.66,-2.92],[1.8,-2.98],[1.98,-2.94],
[.02,-3.08],[.14,-3.04],[.24,-3.1],[.34,-3.06],[.44,-3.1],[.56,-3.06],[.74,-3.1],[.84,-3.02],[.96,-3.06],[1.1,-3.04],[1.26,-3.08],[1.36,-3.06],[1.46,-3.12],[1.58,-3.1],[1.72,-3.08],[1.86,-3.04],[1.96,-3.1],[.04,-3.18],[.12,-3.2],[.22,-3.2],[.34,-3.22],[.44,-3.2],[.6,-3.16],[.82,-3.16],[.98,-3.18],[1.1,-3.2],[1.2,-3.16],[1.34,-3.18],[1.5,-3.2],[1.6,-3.2],[1.7,-3.2],[1.82,-3.16],[1.92,-3.2],
[0,-3.36],[.02,-3.28],[.1,-3.3],[.18,-3.32],[.28,-3.34],[.44,-3.3],[.52,-3.34],[.68,-3.36],[.78,-3.3],[.9,-3.34],[1.02,-3.32],[1.14,-3.36],[1.24,-3.3],[1.3,-3.34],[1.42,-3.3],[1.52,-3.32],[1.66,-3.32],[1.76,-3.36],[1.88,-3.3],[.04,-3.42],[.2,-3.44],[.3,-3.46],[.46,-3.42],[.56,-3.42],[.82,-3.44],[.9,-3.44],[1.04,-3.42],[1.16,-3.42],[1.32,-3.42],[1.44,-3.44],[1.6,-3.4],[1.74,-3.42],[1.92,-3.46],
[.14,-3.54],[.34,-3.54],[.5,-3.6],[.64,-3.56],[.86,-3.5],[1,-3.5],[1.12,-3.58],[1.26,-3.6],[1.4,-3.54],[1.52,-3.52],[1.64,-3.56],[1.78,-3.5],[1.9,-3.54],[.04,-3.72],[.14,-3.72],[.2,-3.66],[.3,-3.7],[.38,-3.62],[.52,-3.7],[.64,-3.68],[.74,-3.64],[.82,-3.72],[.96,-3.64],[1.1,-3.72],[1.22,-3.68],[1.38,-3.68],[1.48,-3.66],[1.58,-3.7],[1.76,-3.72],[1.88,-3.7],[1.98,-3.68],
[.12,-3.78],[.28,-3.82],[.4,-3.76],[.48,-3.82],[.6,-3.84],[.72,-3.84],[.84,-3.78],[1.06,-3.82],[1.18,-3.86],[1.3,-3.78],[1.42,-3.78],[1.56,-3.84],[1.74,-3.82],[1.9,-3.84],[.02,-3.98],[.08,-3.98],[.26,-3.92],[.36,-3.94],[.5,-3.98],[.78,-3.96],[.9,-3.94],[1.02,-3.92],[1.3,-3.96],[1.38,-3.98],[1.56,-3.98],[1.66,-3.96],[1.8,-3.98],[1.96,-3.92]];

// tight clumps that show up darker in the picture
const clumps=[[-1.78,3.64],[-1.74,3.56],[-1.78,3.52],[-1.02,3.44],[-.98,3.46],[-.94,3.38],[-.72,2.62],[-.72,2.58],[-.9,2.62],[-1.2,2.62],[-1.22,2.66],[-.66,3.76],[-.28,3.38],
[2.5,3.8],[2.54,3.76],[2.5,3.62],[2.54,3.56],[3.0,3.28],[3.94,3.8],[3.94,3.86],[3.86,3.94],[2.92,2.46],[3,2.36],[2.9,2.56],[3.16,2.16],[3.18,2.2],[2.7,2.16],[2.16,2.42],
[-3.66,1.3],[-3.6,1.22],[-3.62,1.18],[-3.06,1.08],[-3.02,1.02],[-2.58,1.34],[-2.56,1.3],[-2.1,1.32],[-2.72,.32],[-2.62,.36],[-2.68,.28],[-2.98,.14],[-2.88,.2],[-2.86,.16],[-3.68,.5],[-3.62,.5],
[.22,1.62],[.24,1.56],[.5,1.42],[.44,1.44],[1.66,1.84],[1.7,1.76],[1.66,1.68],[.98,1.2],[.14,.5],[.18,.44],[.42,.1],[.36,.1],[1.42,.36],[1.4,.32],[1.88,.72],[1.9,.78],
[-1.18,-1.42],[-1.1,-1.32],[-1.06,-1.36],[-.94,-1.18],[-.9,-1.14],[-.78,-.76],[-.72,-.72],[-.3,-.1],[-.36,-.08],[-.18,-1.72],[-.14,-1.68],[-1.72,-.68],[-1.7,-.72],[-1.84,-.66],
[2.52,-.8],[2.56,-.78],[2.5,-1.1],[2.56,-1.12],[3.18,-.34],[3.24,-.3],[2.98,-.92],[3.04,-.86],[2.7,-1.56],[2.76,-1.64],[2.78,-1.7],[2.84,-1.66],[3.56,-1.18],
[-3.76,-2.92],[-3.72,-2.96],[-3.76,-3.1],[-3.82,-3.02],[-3.72,-3.4],[-3.66,-3.36],[-3,-3.04],[-2.96,-3.18],[-2.34,-2.02],[-2.3,-2.06],[-2.12,-2.02],[-2.9,-3.58],[-2.86,-3.62],[-3.26,-3.48],
[.92,-2.52],[.96,-2.56],[.88,-2.6],[1.84,-2.26],[1.9,-2.2],[.4,-3.4],[.36,-3.44],[.3,-3.38],[.94,-3.5],[.9,-3.56],[1.4,-3.48],[1.44,-3.36],[1.42,-2.5],[1.46,-2.54]];

const tickValues=[-4,-2,0,2,4];
const titleText='Samples from the checkerboard distribution';
const xLabel='x₁';

const squares=[squareTopMid,squareTopRight,squareMidLeft,squareMidMid,squareCenter,squareRight,squareBottomLeft,squareBottomMid,clumps];
const samples=[];
squares.forEach(s=>s.forEach(p=>samples.push({x:p[0],y:p[1]})));

function tickText(v){
  return v<0?'\u2212'+Math.abs(v):String(v);
}
function axisOptions(isX){
  return {
    type:'linear',
    min:-4,
    max:4,
    afterBuildTicks:axis=>{axis.ticks=tickValues.map(v=>({value:v}))},
    afterFit:axis=>{
      if(isX) axis.height=56
      else axis.width=42
    },
    border:{color:'#222',width:1.5},
    grid:{
      color:ctx=>ctx.tick&&ctx.tick.value===4?'#666':'rgba(176,176,176,0.28)',
      lineWidth:ctx=>ctx.tick&&ctx.tick.value===4?2:1,
      tickColor:'#222',
      tickLength:5,
      drawOnChartArea:true
    },
    ticks:{
      color:'#111',
      font:{family:'DejaVu Sans',size:14},
      maxRotation:0,
      autoSkip:false,
      padding:5,
      callback:tickText
    }
  }
}

const xAxis=axisOptions(true);
xAxis.title={display:true,text:xLabel,color:'#111',font:{family:'DejaVu Sans',size:14},padding:{top:0,bottom:6}};
const yAxis=axisOptions(false);

Chart.defaults.animation=false;
let myChart=new Chart(document.getElementById('myChart').getContext('2d'),{
  type:'scatter',
  data:{datasets:[{
    data:samples,
    backgroundColor:'rgba(31,119,180,0.6)',
    borderWidth:0,
    pointRadius:2.9,
    pointHoverRadius:2.9
  }]},
  options:{
    responsive:false,
    layout:{padding:{left:0,right:19,top:0,bottom:0}},
    plugins:{
      legend:{display:false},
      tooltip:{enabled:false},
      title:{display:true,fullSize:false,text:titleText,color:'#111',font:{family:'DejaVu Sans',size:18.3,weight:'normal'},padding:{top:4,bottom:3}}
    },
    scales:{x:xAxis,y:yAxis}
  }
});
</script>
</body>
</html>
